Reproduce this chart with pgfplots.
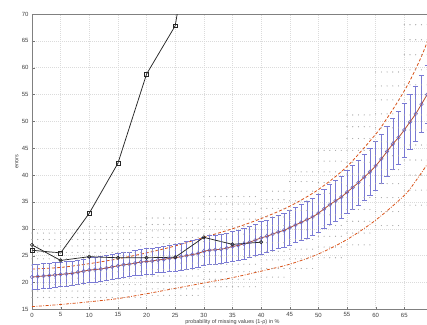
\documentclass[border=0pt]{standalone}
\usepackage{pgfplots}
\pgfplotsset{compat=1.18}
\usepackage{pgfplotstable}
\usepackage{fontspec}
\setmainfont{Liberation Sans}
\definecolor{ebar}{RGB}{122,122,212}
\definecolor{mk}{RGB}{100,100,195}
\definecolor{mkfill}{RGB}{185,185,235}
\definecolor{morange}{RGB}{217,83,25}
\definecolor{mline}{RGB}{180,80,50}
\definecolor{dotc}{RGB}{168,168,168}

\pgfplotstableread{
x m e
0 21.0 2.3
1 21.1 2.3
2 21.2 2.3
3 21.3 2.3
4 21.4 2.3
5 21.5 2.3
6 21.6 2.3
7 21.7 2.3
8 21.9 2.3
9 22.1 2.3
10 22.3 2.3
11 22.4 2.3
12 22.5 2.3
13 22.7 2.3
14 22.9 2.3
15 23.1 2.3
16 23.3 2.3
17 23.4 2.3
18 23.6 2.3
19 23.8 2.4
20 23.9 2.4
21 24.0 2.4
22 24.2 2.4
23 24.3 2.5
24 24.5 2.5
25 24.6 2.5
26 24.8 2.5
27 25.0 2.6
28 25.2 2.6
29 25.4 2.6
30 25.8 2.6
31 26.0 2.7
32 26.1 2.7
33 26.2 2.7
34 26.4 2.7
35 26.7 2.8
36 26.9 2.8
37 27.2 2.8
38 27.5 2.9
39 27.9 2.9
40 28.3 3.0
41 28.6 3.0
42 29.0 3.1
43 29.4 3.1
44 29.7 3.2
45 30.2 3.2
46 30.7 3.3
47 31.2 3.3
48 31.7 3.4
49 32.2 3.5
50 32.9 3.5
51 33.7 3.6
52 34.5 3.7
53 35.2 3.8
54 35.9 3.9
55 36.8 4.0
56 37.7 4.1
57 38.6 4.2
58 39.6 4.3
59 40.6 4.4
60 41.7 4.5
61 43.0 4.6
62 44.4 4.7
63 45.8 4.8
64 47.0 4.9
65 48.4 5.0
66 49.9 5.1
67 51.4 5.2
68 53.2 5.3
69 55.0 5.4
}\meantab

\pgfplotstableread{
x a b c d e f g h i j k l n
0 17.2 18.4 19.6 20.8 22.0 23.2 24.4 25.6 26.8 28.0 29.2 nan nan
1 17.2 18.4 19.6 20.8 22.0 23.2 24.4 25.6 26.8 28.0 29.2 nan nan
2 17.2 18.4 19.6 20.8 22.0 23.2 24.4 25.6 26.8 28.0 29.2 nan nan
3 17.2 18.4 19.6 20.8 22.0 23.2 24.4 25.6 26.8 28.0 29.2 nan nan
4 17.2 18.4 19.6 20.8 22.0 23.2 24.4 25.6 26.8 28.0 29.2 nan nan
5 17.2 18.4 19.6 20.8 22.0 23.2 24.4 25.6 26.8 28.0 29.2 nan nan
6 17.2 18.4 19.6 20.8 22.0 23.2 24.4 25.6 26.8 28.0 29.2 nan nan
7 17.2 18.4 19.6 20.8 22.0 23.2 24.4 25.6 26.8 28.0 29.2 nan nan
8 17.2 18.4 19.6 20.8 22.0 23.2 24.4 25.6 26.8 28.0 29.2 nan nan
9 17.2 18.4 19.6 20.8 22.0 23.2 24.4 25.6 26.8 28.0 29.2 nan nan
10 17.2 18.4 19.6 20.8 22.0 23.2 24.4 25.6 26.8 28.0 29.2 30.4 nan
11 17.2 18.4 19.6 20.8 22.0 23.2 24.4 25.6 26.8 28.0 29.2 30.4 nan
12 17.2 18.4 19.6 20.8 22.0 23.2 24.4 25.6 26.8 28.0 29.2 30.4 nan
13 17.2 18.4 19.6 20.8 22.0 23.2 24.4 25.6 26.8 28.0 29.2 30.4 nan
14 17.2 18.4 19.6 20.8 22.0 23.2 24.4 25.6 26.8 28.0 29.2 30.4 nan
15 17.2 18.4 19.6 20.8 22.0 23.2 24.4 25.6 26.8 28.0 29.2 30.4 nan
16 17.2 18.4 19.6 20.8 22.0 23.2 24.4 25.6 26.8 28.0 29.2 30.4 nan
17 17.2 18.4 19.6 20.8 22.0 23.2 24.4 25.6 26.8 28.0 29.2 30.4 nan
18 17.2 18.4 19.6 20.8 22.0 23.2 24.4 25.6 26.8 28.0 29.2 30.4 nan
19 17.2 18.4 19.6 20.8 22.0 23.2 24.4 25.6 26.8 28.0 29.2 30.4 nan
20 17.6 18.8 20.0 21.2 22.4 23.6 24.8 26.0 27.2 28.4 29.6 30.8 32.0
21 17.6 18.8 20.0 21.2 22.4 23.6 24.8 26.0 27.2 28.4 29.6 30.8 32.0
22 17.6 18.8 20.0 21.2 22.4 23.6 24.8 26.0 27.2 28.4 29.6 30.8 32.0
23 17.6 18.8 20.0 21.2 22.4 23.6 24.8 26.0 27.2 28.4 29.6 30.8 32.0
24 17.6 18.8 20.0 21.2 22.4 23.6 24.8 26.0 27.2 28.4 29.6 30.8 32.0
25 17.6 18.8 20.0 21.2 22.4 23.6 24.8 26.0 27.2 28.4 29.6 30.8 32.0
26 17.6 18.8 20.0 21.2 22.4 23.6 24.8 26.0 27.2 28.4 29.6 30.8 32.0
27 17.6 18.8 20.0 21.2 22.4 23.6 24.8 26.0 27.2 28.4 29.6 30.8 32.0
28 17.6 18.8 20.0 21.2 22.4 23.6 24.8 26.0 27.2 28.4 29.6 30.8 32.0
29 17.6 18.8 20.0 21.2 22.4 23.6 24.8 26.0 27.2 28.4 29.6 30.8 32.0
30 19.2 20.6 22.0 23.4 24.8 26.2 27.6 29.0 30.4 31.8 33.2 34.6 36.0
31 19.2 20.6 22.0 23.4 24.8 26.2 27.6 29.0 30.4 31.8 33.2 34.6 36.0
32 19.2 20.6 22.0 23.4 24.8 26.2 27.6 29.0 30.4 31.8 33.2 34.6 36.0
33 19.2 20.6 22.0 23.4 24.8 26.2 27.6 29.0 30.4 31.8 33.2 34.6 36.0
34 19.2 20.6 22.0 23.4 24.8 26.2 27.6 29.0 30.4 31.8 33.2 34.6 36.0
35 19.2 20.6 22.0 23.4 24.8 26.2 27.6 29.0 30.4 31.8 33.2 34.6 36.0
36 19.2 20.6 22.0 23.4 24.8 26.2 27.6 29.0 30.4 31.8 33.2 34.6 36.0
37 19.2 20.6 22.0 23.4 24.8 26.2 27.6 29.0 30.4 31.8 33.2 34.6 36.0
38 19.2 20.6 22.0 23.4 24.8 26.2 27.6 29.0 30.4 31.8 33.2 34.6 36.0
39 19.2 20.6 22.0 23.4 24.8 26.2 27.6 29.0 30.4 31.8 33.2 34.6 36.0
40 21.0 22.6 24.2 25.8 27.4 29.0 30.6 32.2 33.8 35.4 37.0 nan nan
41 21.0 22.6 24.2 25.8 27.4 29.0 30.6 32.2 33.8 35.4 37.0 nan nan
42 21.0 22.6 24.2 25.8 27.4 29.0 30.6 32.2 33.8 35.4 37.0 nan nan
43 21.0 22.6 24.2 25.8 27.4 29.0 30.6 32.2 33.8 35.4 37.0 nan nan
44 21.0 22.6 24.2 25.8 27.4 29.0 30.6 32.2 33.8 35.4 37.0 nan nan
45 22.6 24.4 26.2 28.0 29.8 31.6 33.4 35.2 37.0 38.8 40.6 nan nan
46 22.6 24.4 26.2 28.0 29.8 31.6 33.4 35.2 37.0 38.8 40.6 nan nan
47 22.6 24.4 26.2 28.0 29.8 31.6 33.4 35.2 37.0 38.8 40.6 nan nan
48 22.6 24.4 26.2 28.0 29.8 31.6 33.4 35.2 37.0 38.8 40.6 nan nan
49 22.6 24.4 26.2 28.0 29.8 31.6 33.4 35.2 37.0 38.8 40.6 nan nan
50 24.6 26.6 28.6 30.6 32.6 34.6 36.6 38.6 40.6 42.6 44.6 nan nan
51 24.6 26.6 28.6 30.6 32.6 34.6 36.6 38.6 40.6 42.6 44.6 nan nan
52 24.6 26.6 28.6 30.6 32.6 34.6 36.6 38.6 40.6 42.6 44.6 nan nan
53 24.6 26.6 28.6 30.6 32.6 34.6 36.6 38.6 40.6 42.6 44.6 nan nan
54 24.6 26.6 28.6 30.6 32.6 34.6 36.6 38.6 40.6 42.6 44.6 nan nan
55 27.0 29.2 31.4 33.6 35.8 38.0 40.2 42.4 44.6 46.8 49.0 51.2 nan
56 27.0 29.2 31.4 33.6 35.8 38.0 40.2 42.4 44.6 46.8 49.0 51.2 nan
57 27.0 29.2 31.4 33.6 35.8 38.0 40.2 42.4 44.6 46.8 49.0 51.2 nan
58 27.0 29.2 31.4 33.6 35.8 38.0 40.2 42.4 44.6 46.8 49.0 51.2 nan
59 27.0 29.2 31.4 33.6 35.8 38.0 40.2 42.4 44.6 46.8 49.0 51.2 nan
60 30.6 33.2 35.8 38.4 41.0 43.6 46.2 48.8 51.4 54.0 56.6 59.2 nan
61 30.6 33.2 35.8 38.4 41.0 43.6 46.2 48.8 51.4 54.0 56.6 59.2 nan
62 30.6 33.2 35.8 38.4 41.0 43.6 46.2 48.8 51.4 54.0 56.6 59.2 nan
63 30.6 33.2 35.8 38.4 41.0 43.6 46.2 48.8 51.4 54.0 56.6 59.2 nan
64 30.6 33.2 35.8 38.4 41.0 43.6 46.2 48.8 51.4 54.0 56.6 59.2 nan
65 34.4 37.2 40.0 42.8 45.6 48.4 51.2 54.0 56.8 59.6 62.4 65.2 68.0
66 34.4 37.2 40.0 42.8 45.6 48.4 51.2 54.0 56.8 59.6 62.4 65.2 68.0
67 34.4 37.2 40.0 42.8 45.6 48.4 51.2 54.0 56.8 59.6 62.4 65.2 68.0
68 34.4 37.2 40.0 42.8 45.6 48.4 51.2 54.0 56.8 59.6 62.4 65.2 68.0
69 34.4 37.2 40.0 42.8 45.6 48.4 51.2 54.0 56.8 59.6 62.4 65.2 68.0
}\dottab

\begin{document}
\begin{tikzpicture}
\begin{axis}[
  scale only axis, width=400.9pt, height=295.3pt,
  xmin=0, xmax=70, ymin=15, ymax=70,
  xtick={0,5,...,65}, ytick={15,20,...,70},
  tick align=inside, major tick length=2.5pt, tick pos=left,
  grid=major, major grid style={line width=0.4pt, dash pattern=on 0.5pt off 1.5pt, black!14},
  axis line style={black!50}, tick style={black!55},
  ticklabel style={font=\fontsize{6}{7}\selectfont, text=black!75},
  /pgf/number format/assume math mode=true,
  xlabel={probability of missing values (1-ρ) in \%},
  ylabel={errors},
  label style={font=\fontsize{5.5}{6.5}\selectfont, text=black!75},
  xlabel style={at={(axis description cs:0.5,0)}, anchor=north, yshift=-6.5pt},
  ylabel style={at={(axis description cs:-0.0374,0.5)}, anchor=center},
  clip=true,
]
\coordinate (ll) at (rel axis cs:0,0);
% background scatter
\pgfplotsinvokeforeach{a,b,c,d,e,f,g,h,i,j,k,l,n}{
  \addplot[only marks, mark=*, mark size=0.3pt, color=dotc, mark options={draw=none, fill=dotc}, forget plot] table[x=x, y=#1] {\dottab};
}
% lower and upper bounds
\addplot[morange, line width=0.8pt, dash pattern=on 3pt off 1.5pt on 0.8pt off 1.5pt, smooth] coordinates {
(0,15.5) (5,15.9) (10,16.4) (15,17.0) (20,17.9) (25,18.9) (30,19.9) (35,20.9) (40,22.1) (45,23.4) (50,25.3) (55,28.0) (60,31.6) (65,36.2) (67,38.9) (69,42.0) (70,43.7)};
\addplot[morange, line width=0.8pt, dash pattern=on 3pt off 2pt, smooth] coordinates {
(0,22.5) (5,22.8) (10,23.5) (15,24.4) (20,25.5) (25,26.8) (30,28.4) (35,30.0) (40,31.9) (45,34.2) (50,37.3) (55,41.6) (60,47.6) (62,50.6) (64,53.9) (66,57.6) (68,62.1) (69,64.8) (70,67.8)};
% mean with error bars
\addplot[ebar, line width=0.6pt, only marks, mark=o, mark size=1.8pt,
  mark options={draw=mk, fill=mkfill, line width=0.5pt},
  error bars/.cd, y dir=both, y explicit,
  error bar style={ebar, line width=0.6pt},
  error mark options={rotate=90, mark size=2.6pt, ebar, line width=0.6pt}]
  table[x=x, y=m, y error=e] {\meantab};
\addplot[mline, line width=0.8pt, smooth] table[x=x, y=m] {\meantab};
% black lines
\addplot[black!85, line width=0.75pt, mark=square, mark size=1.9pt, mark options={solid, line width=0.6pt}] coordinates {
(0,26.0) (5,25.5) (10,32.9) (15,42.2) (20,58.8) (25,67.8) (30,99)};
\addplot[black!85, line width=0.75pt, mark=o, mark size=1.7pt, mark options={solid, line width=0.6pt}] coordinates {
(0,27.0) (5,24.1) (10,24.8) (15,24.6) (20,24.6) (25,24.7) (30,28.4) (35,27.1) (40,27.5)};
\end{axis}
\pgfresetboundingbox
\path[use as bounding box] ([shift={(-32pt,-14.7pt)}]ll) rectangle ++(427pt,324pt);
\end{tikzpicture}
\end{document}
